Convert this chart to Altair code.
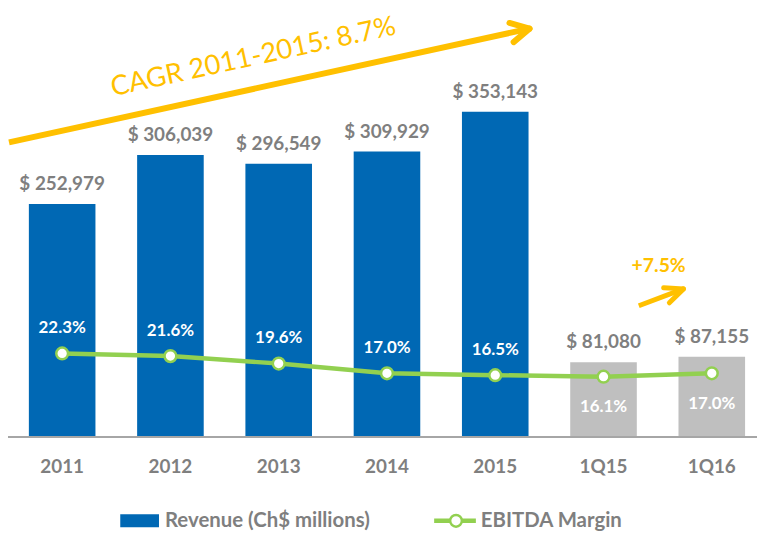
import math
import altair as alt
import pandas as pd

# ---------------- data ----------------
categories = ["2011", "2012", "2013", "2014", "2015", "1Q15", "1Q16"]
revenue = [252979, 306039, 296549, 309929, 353143, 81080, 87155]
ebitda_margin = [0.223, 0.216, 0.196, 0.170, 0.165, 0.161, 0.170]
period_type = ["Annual", "Annual", "Annual", "Annual", "Annual", "Quarter", "Quarter"]
legend_labels = ["Revenue (Ch$ millions)", "EBITDA Margin"]
cagr_text = "CAGR 2011-2015: 8.7%"
growth_text = "+7.5%"

df = pd.DataFrame({
    "category": categories,
    "revenue": revenue,
    "margin": ebitda_margin,
    "period": period_type,
})
df["rev_label"] = [f"$ {v:,}" for v in revenue]
df["margin_label"] = [f"{v * 100:.1f}%" for v in ebitda_margin]

# ---------------- style ----------------
FONT = "Lato"
BLUE = "#0068B4"
BAR_GRAY = "#BFBFBF"
TXT_GRAY = "#7F7F7F"
GREEN = "#92D050"
GOLD = "#FFC000"
W, H = 749, 430

x_enc = alt.X(
    "category:N",
    sort=categories,
    scale=alt.Scale(range=[21, 742], paddingInner=0.385, paddingOuter=0),
    axis=alt.Axis(
        title=None, domain=False, ticks=False, tickSize=0, labelAngle=0,
        labelFont=FONT, labelFontWeight="bold", labelFontSize=19,
        labelColor=TXT_GRAY, labelPadding=30, labelBaseline="middle",
    ),
)

base = alt.Chart(df)

y_rev = alt.Y("revenue:Q", scale=alt.Scale(domain=[0, 463900], nice=False, zero=True), axis=None)

bars = base.mark_bar().encode(
    x=x_enc,
    y=y_rev,
    color=alt.Color("period:N", scale=alt.Scale(domain=["Annual", "Quarter"], range=[BLUE, BAR_GRAY]), legend=None),
)
bar_labels = base.mark_text(
    font=FONT, fontWeight="bold", fontSize=19, color=TXT_GRAY,
    baseline="alphabetic", dy=-14,
).encode(x=x_enc, y=y_rev, text="rev_label:N")

rev_group = alt.layer(bars, bar_labels)

y_mar = alt.Y("margin:Q", scale=alt.Scale(domain=[0, 1.142], nice=False, zero=True), axis=None)

line = base.mark_line(color=GREEN, strokeWidth=4.5).encode(x=x_enc, y=y_mar)
points = base.mark_circle(
    fill="white", stroke=GREEN, strokeWidth=2.5, size=140, opacity=1
).encode(x=x_enc, y=y_mar)
pct_annual = base.transform_filter(alt.datum.period == "Annual").mark_text(
    font=FONT, fontWeight="bold", fontSize=17, color="white", baseline="middle", dy=-25.5
).encode(x=x_enc, y=y_mar, text="margin_label:N")
pct_quarter = base.transform_filter(alt.datum.period == "Quarter").mark_text(
    font=FONT, fontWeight="bold", fontSize=17, color="white", baseline="middle", dy=31
).encode(x=x_enc, y=y_mar, text="margin_label:N")

margin_group = alt.layer(line, points, pct_annual, pct_quarter)

one = pd.DataFrame({"k": [0]})


def rule(x1, y1, x2, y2, color, width, cap="round"):
    return alt.Chart(one).mark_rule(color=color, strokeWidth=width, strokeCap=cap).encode(
        x=alt.value(x1), x2=alt.value(x2), y=alt.value(y1), y2=alt.value(y2)
    )


def arrow(tail, tip, arm_len, arm_deg, width):
    dx, dy = tail[0] - tip[0], tail[1] - tip[1]
    n = math.hypot(dx, dy)
    ux, uy = dx / n, dy / n
    layers = [rule(tail[0], tail[1], tip[0], tip[1], GOLD, width, "butt")]
    for s in (1, -1):
        a = math.radians(arm_deg * s)
        ax = ux * math.cos(a) - uy * math.sin(a)
        ay = ux * math.sin(a) + uy * math.cos(a)
        layers.append(rule(tip[0], tip[1], tip[0] + ax * arm_len, tip[1] + ay * arm_len, GOLD, width))
    return layers


annotations = []
annotations += arrow((1, 133.5), (525, 19), 21, 28, 6)
annotations += arrow((635, 298), (680, 281), 20, 24, 5)

cagr = alt.Chart(pd.DataFrame({"t": [cagr_text]})).mark_text(
    font=FONT, fontSize=27.5, color=GOLD, angle=347.7, align="center", baseline="middle"
).encode(x=alt.value(247), y=alt.value(48), text="t:N")
growth = alt.Chart(pd.DataFrame({"t": [growth_text]})).mark_text(
    font=FONT, fontWeight="bold", fontSize=19.5, color=GOLD, align="center", baseline="middle"
).encode(x=alt.value(655), y=alt.value(258.5), text="t:N")

axis_line = rule(0, H, 754, H, "#A6A6A6", 2, "butt")

# legend
leg_rect = alt.Chart(one).mark_rect(color=BLUE).encode(
    x=alt.value(113), x2=alt.value(152), y=alt.value(508), y2=alt.value(521)
)
leg_text1 = alt.Chart(pd.DataFrame({"t": [legend_labels[0]]})).mark_text(
    font=FONT, fontWeight="bold", fontSize=20.5, color=TXT_GRAY, align="left", baseline="middle"
).encode(x=alt.value(158), y=alt.value(515), text="t:N")
leg_line = rule(429, 514.5, 471, 514.5, GREEN, 4.5, "butt")
leg_pt = alt.Chart(one).mark_circle(
    fill="white", stroke=GREEN, strokeWidth=2.5, size=140, opacity=1
).encode(x=alt.value(451), y=alt.value(514.5))
leg_text2 = alt.Chart(pd.DataFrame({"t": [legend_labels[1]]})).mark_text(
    font=FONT, fontWeight="bold", fontSize=20.5, color=TXT_GRAY, align="left", baseline="middle"
).encode(x=alt.value(476), y=alt.value(515), text="t:N")

chart = alt.layer(
    rev_group, margin_group, axis_line, *annotations, cagr, growth,
    leg_rect, leg_text1, leg_line, leg_pt, leg_text2,
).resolve_scale(y="independent").properties(
    width=W, height=H,
    autosize=alt.AutoSizeParams(type="none"),
    padding={"left": 0, "top": 0, "right": 5, "bottom": 94},
).configure(background="white").configure_view(strokeWidth=0)

chart.save("out.html", embed_options={"renderer": "svg", "actions": False})
